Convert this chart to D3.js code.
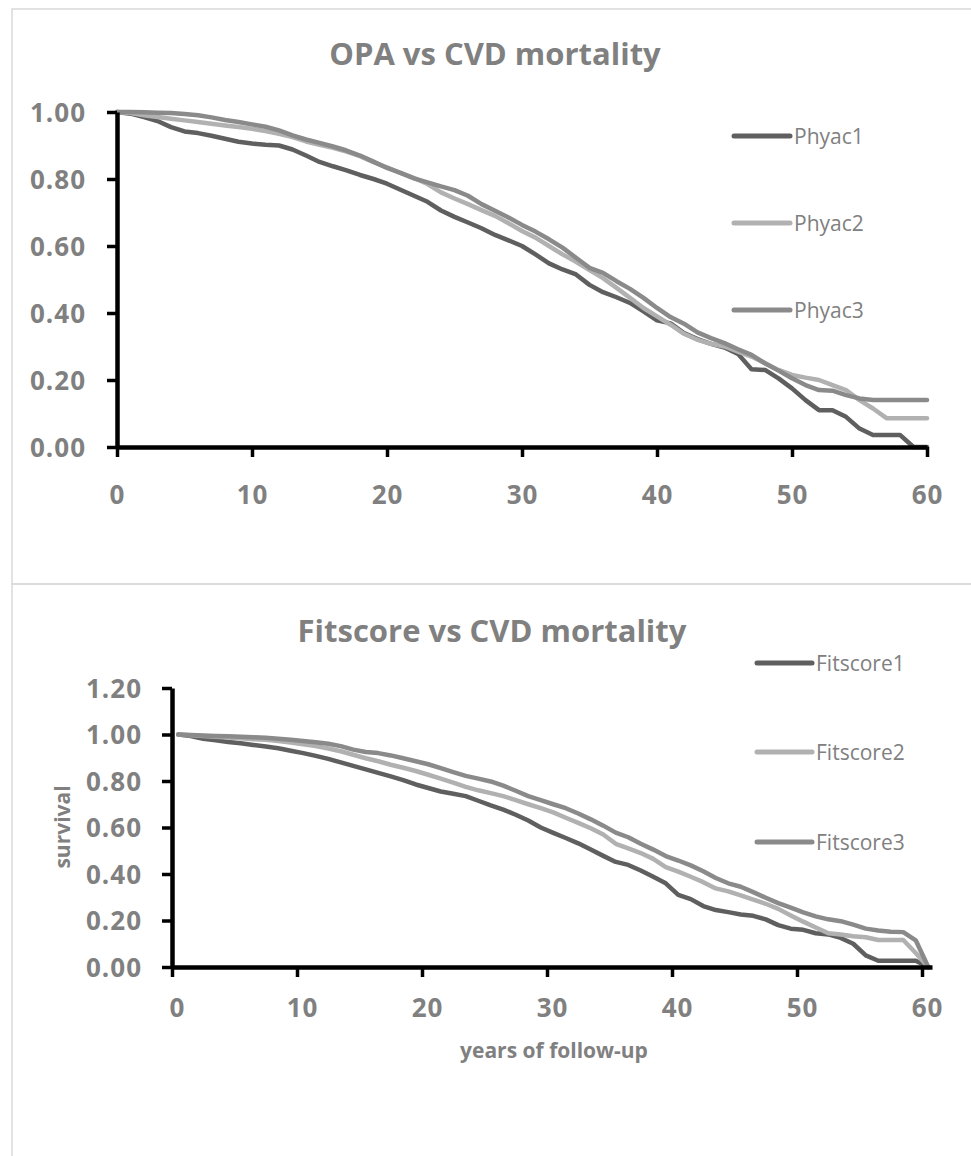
<!DOCTYPE html>
<html><head><meta charset="utf-8">
<script src="https://cdn.jsdelivr.net/npm/d3@7"></script>
<style>body{margin:0;background:#fff}svg{display:block}</style>
</head><body>
<svg id="c" width="971" height="1156"></svg>
<script>
// ---------- Data: OPA vs CVD mortality ----------
const opaYears = [0,1,2,3,4,5,6,7,8,9,10,11,12,13,14,15,16,17,18,19,20,21,22,23,24,25,26,27,28,29,30,31,32,33,34,35,36,37,38,39,40,41,42,43,44,45,46,47,48,49,50,51,52,53,54,55,56,57,58,59,60];
const phyac1 = [1.000,0.995,0.985,0.973,0.955,0.942,0.937,0.929,0.920,0.911,
  0.906,0.902,0.900,0.888,0.870,0.851,0.838,0.826,0.812,0.800,
  0.786,0.768,0.750,0.732,0.706,0.687,0.670,0.653,0.633,0.617,
  0.600,0.575,0.548,0.530,0.515,0.484,0.462,0.447,0.430,0.405,
  0.378,0.369,0.340,0.322,0.308,0.297,0.278,0.232,0.230,0.205,
  0.175,0.140,0.110,0.110,0.090,0.055,0.036,0.036,0.036,0.000,0.000];
const phyac2 = [1.000,0.997,0.990,0.985,0.980,0.975,0.970,0.965,0.960,0.955,
  0.950,0.943,0.935,0.925,0.912,0.902,0.893,0.882,0.868,0.850,
  0.835,0.818,0.803,0.785,0.760,0.742,0.725,0.707,0.690,0.668,
  0.645,0.625,0.600,0.575,0.553,0.528,0.504,0.475,0.445,0.415,
  0.390,0.365,0.338,0.320,0.308,0.300,0.285,0.270,0.250,0.230,
  0.215,0.207,0.200,0.185,0.170,0.140,0.115,0.086,0.086,0.086,0.086];
const phyac3 = [1.000,1.000,0.999,0.998,0.997,0.994,0.990,0.984,0.976,0.970,
  0.963,0.956,0.945,0.930,0.918,0.908,0.897,0.885,0.870,0.852,
  0.833,0.818,0.802,0.790,0.778,0.767,0.750,0.725,0.705,0.685,
  0.663,0.643,0.620,0.595,0.565,0.535,0.520,0.495,0.472,0.445,
  0.415,0.388,0.368,0.342,0.325,0.310,0.292,0.275,0.250,0.228,
  0.205,0.185,0.170,0.168,0.155,0.145,0.140,0.140,0.140,0.140,0.140];
const opaNames = ["Phyac1","Phyac2","Phyac3"];
const opaYTicks = [0,0.2,0.4,0.6,0.8,1.0];
const opaXTicks = [0,10,20,30,40,50,60];

// ---------- Data: Fitscore vs CVD mortality ----------
const fitYears = [0.5,1.5,2.5,3.5,4.5,5.5,6.5,7.5,8.5,9.5,10.5,11.5,12.5,13.5,14.5,15.5,16.5,17.5,18.5,19.5,20.5,21.5,22.5,23.5,24.5,25.5,26.5,27.5,28.5,29.5,30.5,31.5,32.5,33.5,34.5,35.5,36.5,37.5,38.5,39.5,40.5,41.5,42.5,43.5,44.5,45.5,46.5,47.5,48.5,49.5,50.5,51.5,52.5,53.5,54.5,55.5,56.5,57.5,58.5,59.5,60.5];
const fitscore1 = [1.000,0.993,0.982,0.975,0.968,0.962,0.955,0.948,0.941,0.930,
  0.920,0.908,0.895,0.880,0.865,0.850,0.835,0.820,0.804,0.785,
  0.770,0.755,0.745,0.735,0.715,0.695,0.677,0.655,0.630,0.600,
  0.577,0.555,0.532,0.505,0.478,0.452,0.439,0.415,0.388,0.360,
  0.310,0.292,0.262,0.245,0.236,0.226,0.220,0.205,0.180,0.165,
  0.160,0.145,0.140,0.125,0.100,0.050,0.027,0.027,0.027,0.027,0.000];
const fitscore2 = [1.000,0.997,0.993,0.990,0.987,0.984,0.980,0.977,0.972,0.965,
  0.958,0.950,0.940,0.928,0.913,0.898,0.885,0.870,0.857,0.843,
  0.827,0.810,0.793,0.775,0.760,0.748,0.735,0.718,0.700,0.683,
  0.665,0.642,0.620,0.597,0.570,0.530,0.510,0.490,0.465,0.430,
  0.410,0.388,0.365,0.338,0.325,0.308,0.290,0.272,0.250,0.222,
  0.195,0.170,0.145,0.140,0.132,0.128,0.116,0.116,0.116,0.060,0.000];
const fitscore3 = [1.000,0.998,0.996,0.994,0.992,0.990,0.988,0.986,0.982,0.977,
  0.972,0.967,0.960,0.950,0.935,0.925,0.920,0.910,0.898,0.885,
  0.872,0.855,0.838,0.822,0.810,0.798,0.780,0.758,0.735,0.718,
  0.700,0.683,0.660,0.635,0.608,0.578,0.558,0.530,0.505,0.477,
  0.458,0.437,0.412,0.383,0.360,0.345,0.322,0.298,0.275,0.255,
  0.235,0.218,0.205,0.197,0.182,0.165,0.157,0.152,0.150,0.115,0.000];
const fitNames = ["Fitscore1","Fitscore2","Fitscore3"];
const fitYTicks = [0,0.2,0.4,0.6,0.8,1.0,1.2];
const fitXTicks = [0,10,20,30,40,50,60];

const seriesColors = ["#5f5f5f","#b1b1b1","#8a8a8a"];
const textGray = "#808080";
const FONT = "'Open Sans', 'Noto Sans', sans-serif";

const svg = d3.select("#c");

// panel borders
svg.append("rect").attr("x",12).attr("y",9).attr("width",975).attr("height",575)
  .attr("fill","none").attr("stroke","#d9d9d9").attr("stroke-width",1.5);
svg.append("rect").attr("x",12).attr("y",584).attr("width",975).attr("height",600)
  .attr("fill","none").attr("stroke","#d9d9d9").attr("stroke-width",1.5);

function drawChart(cfg) {
  const g = svg.append("g");
  const x = d3.scaleLinear().domain(cfg.xDomain).range(cfg.xRange);
  const y = d3.scaleLinear().domain(cfg.yDomain).range(cfg.yRange);

  // title
  g.append("text").attr("x", cfg.titleX).attr("y", cfg.titleY)
    .attr("text-anchor","middle").attr("font-family",FONT).attr("font-weight",700)
    .attr("font-size",31).attr("fill",textGray).text(cfg.title);

  // series lines
  const line = d3.line().x((d,i)=>x(cfg.years[i])).y(d=>y(d));
  cfg.series.forEach((s,i)=>{
    g.append("path").datum(s).attr("d",line).attr("fill","none")
      .attr("stroke",seriesColors[i]).attr("stroke-width",4.5)
      .attr("stroke-linejoin","round").attr("stroke-linecap","round");
  });

  // y axis
  const yAx = g.append("g").attr("transform",`translate(${cfg.xRange[0]},0)`)
    .call(d3.axisLeft(y).tickValues(cfg.yTicks).tickSize(10).tickSizeOuter(0)
      .tickPadding(cfg.yPad).tickFormat(d3.format(".2f")));
  // x axis
  const xAx = g.append("g").attr("transform",`translate(0,${cfg.yRange[0]})`)
    .call(d3.axisBottom(x).tickValues(cfg.xTicks).tickSize(10).tickSizeOuter(0)
      .tickFormat(d3.format("d")));
  [yAx,xAx].forEach(a=>{
    a.select(".domain").attr("stroke","#000").attr("stroke-width",4.5);
    a.selectAll(".tick line").attr("stroke","#000").attr("stroke-width",3.5);
    a.selectAll(".tick text").attr("fill",textGray).attr("font-family",FONT)
      .attr("font-weight",700).attr("font-size",26).attr("letter-spacing",1);
  });
  yAx.selectAll(".tick text").attr("dy","0.36em");
  xAx.selectAll(".tick text").attr("y",cfg.xLabelBaseline).attr("dy",0)
    .attr("x",cfg.xLabelShift);

  // legend
  cfg.names.forEach((n,i)=>{
    const ly = cfg.legendY[i];
    g.append("line").attr("x1",cfg.legendX[0]).attr("x2",cfg.legendX[1])
      .attr("y1",ly).attr("y2",ly).attr("stroke",seriesColors[i])
      .attr("stroke-width",5).attr("stroke-linecap","round");
    g.append("text").attr("x",cfg.legendX[1]+4).attr("y",ly).attr("dy","0.36em")
      .attr("font-family",FONT).attr("font-size",21).attr("fill",textGray).text(n);
  });
  return g;
}

drawChart({
  title:"OPA vs CVD mortality", titleX:495, titleY:65,
  years:opaYears, series:[phyac1,phyac2,phyac3], names:opaNames,
  xDomain:[0,60], xRange:[117,927], yDomain:[0,1], yRange:[447,112],
  yTicks:opaYTicks, xTicks:opaXTicks, yPad:21, xLabelBaseline:57, xLabelShift:0,
  legendX:[734,790], legendY:[136,223,310]
});

drawChart({
  title:"Fitscore vs CVD mortality", titleX:492, titleY:642,
  years:fitYears, series:[fitscore1,fitscore2,fitscore3], names:fitNames,
  xDomain:[0,60.8], xRange:[172,932], yDomain:[0,1.2], yRange:[967,688],
  yTicks:fitYTicks, xTicks:fitXTicks, yPad:20, xLabelBaseline:50, xLabelShift:5,
  legendX:[757,812], legendY:[663,752,842]
});

// axis titles for second chart
svg.append("text").attr("transform","translate(70,827) rotate(-90)")
  .attr("text-anchor","middle").attr("font-family",FONT).attr("font-weight",700)
  .attr("font-size",21).attr("fill",textGray).text("survival");
svg.append("text").attr("x",554).attr("y",1058).attr("text-anchor","middle")
  .attr("font-family",FONT).attr("font-weight",700).attr("font-size",21)
  .attr("fill",textGray).text("years of follow-up");
</script>
</body></html>
